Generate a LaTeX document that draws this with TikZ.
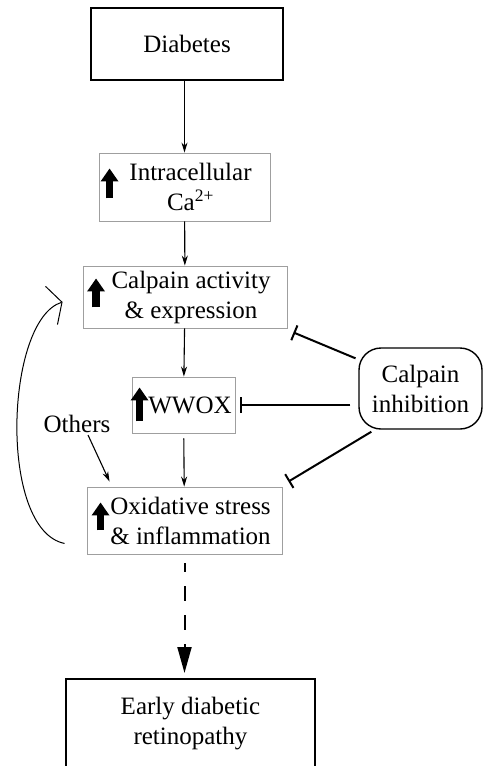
\documentclass[tikz,border=0pt]{standalone}
\usepackage{fontspec}
\setmainfont{Liberation Serif}
\usetikzlibrary{arrows.meta, positioning, calc}
\newcommand\R{\hspace*{12pt}}

\begin{document}
\begin{tikzpicture}[
        x=1pt, y=-1pt,
        box/.style = {rectangle, draw=gray!75, line width=0.9pt, align=center, inner sep=0pt},
        bigbox/.style = {rectangle, draw=black, line width=1.6pt, align=center, inner sep=0pt},
        inhbox/.style = {rectangle, draw=black, line width=1.4pt, rounded corners=22pt, align=center, inner sep=0pt},
        arr/.style = {-{Stealth[length=10pt, width=6pt]}, line width=1.1pt},
        dasharr/.style = {-{Triangle[length=26pt, width=14pt]}, line width=2pt, dash pattern=on 15pt off 14pt, dash phase=6pt},
        inhib/.style = {-{Bar[width=16pt]}, line width=2pt},
        fb/.style = {-{Straight Barb[length=11pt, width=40pt]}, line width=1pt},
        up/.style = {line width=7.5pt, -{Triangle[length=13pt, width=17pt]}},
        font = \fontsize{25}{30}\selectfont,
    ]
        \useasboundingbox (0,0) rectangle (483,766);

        \node[bigbox, minimum width=192, minimum height=72] (diab) at (187,44) {Diabetes};
        \node[box, minimum width=171, minimum height=68] (calc) at (184.5,187) {\R Intracellular\\\R Ca\textsuperscript{2+}};
        \node[box, minimum width=204, minimum height=62] (calp) at (185,297) {\R Calpain activity\\\R\& expression};
        \node[box, minimum width=103, minimum height=56] (wwox) at (183.5,405) {\hspace*{13pt}WWOX};
        \node[box, minimum width=195, minimum height=67] (oxid) at (184.5,520.5) {\R Oxidative stress\\\R\& inflammation};
        \node[bigbox, minimum width=249, minimum height=90, anchor=north] (early) at (190.5,678) {Early diabetic\\retinopathy};
        \node[inhbox, minimum width=123, minimum height=81] (inh) at (420.5,388.5) {Calpain\\inhibition};
        \node[inner sep=2pt] (oth) at (77,424) {Others};

        % up arrows in the boxes
        \foreach \b/\dx/\dy/\h in {calc/11/-23/30, calp/13.5/-21/29, wwox/8/-12/34, oxid/14/-24/28}{
            \draw[up] ($(\b.south west)+(\dx,\dy)$) -- ++(0,-\h);
        }

        \draw[arr] (diab.south -| calc.north) -- (calc.north);
        \draw[arr] (calc) -- (calp);
        \draw[arr] (calp) -- (wwox);
        \draw[arr, shorten <=5pt] (wwox) -- (oxid);
        \draw[dasharr, shorten <=9pt, shorten >=5pt] (oxid.south) -- (oxid.south |- early.north);
        \draw[arr] ($(oth.south)+(11,0)$) -- ($(oxid.north west)+(23,-5)$);

        \draw[inhib, shorten <=3pt] (inh.155) -- ($(calp.south east)+(6,4)$);
        \draw[inhib, shorten <=8pt, shorten >=5pt] (inh.west |- wwox.east) -- (wwox.east);
        \draw[inhib, shorten <=4pt] (inh.222) -- ($(oxid.north east)+(6,-5)$);

        % feedback loop
        \draw[fb] ($(oxid.south west)+(-22,-11)$) .. controls (-2,530) and (5,320) .. ($(calp.west)+(-20,5)$);
    \end{tikzpicture}
\end{document}
